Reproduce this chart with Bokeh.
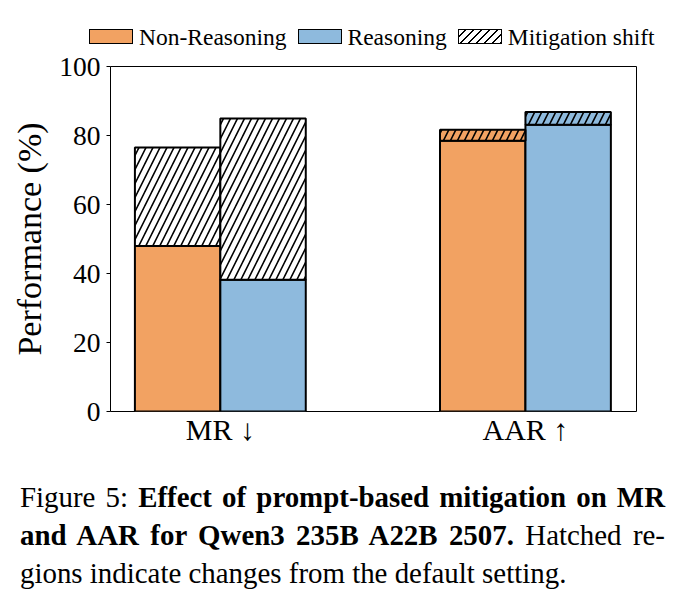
from bokeh.plotting import figure
from bokeh.models import ColumnDataSource, FixedTicker, Div
from bokeh.layouts import column
from bokeh.embed import file_html
from bokeh.resources import INLINE

categories = ["MR ↓", "AAR ↑"]
series_names = ["Non-Reasoning", "Reasoning"]
series_colors = ["#F2A262", "#8EBADD"]
non_reasoning_default = [76.5, 78.5]
non_reasoning_mitigated = [48.0, 81.7]
reasoning_default = [84.9, 83.1]
reasoning_mitigated = [38.2, 86.8]
y_ticks = [0, 20, 40, 60, 80, 100]
shift_label = "Mitigation shift"

FONT = "Liberation Serif"
bar_w = 0.28
offsets = [-0.14, 0.14]
defaults = [non_reasoning_default, reasoning_default]
mitigated = [non_reasoning_mitigated, reasoning_mitigated]
HATCH = dict(hatch_pattern="/", hatch_color="black", hatch_scale=14, hatch_weight=1.6)

# ---- legend strip (HTML) ----
HATCH_CSS = "repeating-linear-gradient(-45deg, #000 0px, #000 1.4px, #fff 1.4px, #fff 5.6px)"
swatches = [("background:" + series_colors[0], series_names[0]),
            ("background:" + series_colors[1], series_names[1]),
            ("background:" + HATCH_CSS, shift_label)]
items_html = ""
for k, (bg, lab) in enumerate(swatches):
    ml = "89px" if k == 0 else "11px"
    items_html += (
        f'<span style="display:inline-block; width:44px; height:15px; border:1.5px solid #000; '
        f'{bg}; margin-left:{ml}; margin-right:6px; vertical-align:middle;"></span>'
        f'<span style="vertical-align:middle;">{lab}</span>'
    )
legend_html = (
    f'<div style="font-family:\'Liberation Serif\'; font-size:23.5px; color:#000; '
    f'white-space:nowrap; padding-top:21px; line-height:26px;">{items_html}</div>'
)
leg = Div(text=legend_html, width=691, height=52, margin=(0, 0, 0, 0))

# ---- main chart ----
p = figure(width=691, height=413, x_range=(-0.36, 1.364), y_range=(0, 100),
           output_backend="svg", toolbar_location=None,
           min_border_left=110, min_border_right=55, min_border_top=14, min_border_bottom=54)

hatch_white = dict(x=[], bottom=[], top=[])
hatch_col = dict(x=[], bottom=[], top=[], color=[])
for s in range(2):
    xs, tops = [], []
    for i in range(len(categories)):
        d, m = defaults[s][i], mitigated[s][i]
        lo, hi = min(d, m), max(d, m)
        x = i + offsets[s]
        xs.append(x)
        tops.append(lo)
        if m > d:
            hatch_col["x"].append(x); hatch_col["bottom"].append(lo)
            hatch_col["top"].append(hi); hatch_col["color"].append(series_colors[s])
        else:
            hatch_white["x"].append(x); hatch_white["bottom"].append(lo)
            hatch_white["top"].append(hi)
    p.vbar(x=xs, top=tops, bottom=0, width=bar_w, fill_color=series_colors[s],
           line_color="black", line_width=2)

p.vbar(x="x", bottom="bottom", top="top", width=bar_w, source=ColumnDataSource(hatch_white),
       fill_color="white", line_color="black", line_width=2, **HATCH)
p.vbar(x="x", bottom="bottom", top="top", width=bar_w, source=ColumnDataSource(hatch_col),
       fill_color="color", line_color="black", line_width=2, **HATCH)

p.xgrid.visible = False
p.ygrid.visible = False
p.outline_line_color = "black"
p.outline_line_width = 1
p.outline_line_alpha = 1

p.xaxis.ticker = FixedTicker(ticks=list(range(len(categories))))
p.xaxis.major_label_overrides = {i: c for i, c in enumerate(categories)}
p.xaxis.major_tick_line_color = None
p.xaxis.minor_tick_line_color = None
p.xaxis.axis_line_color = None
p.xaxis.major_label_standoff = -5

p.yaxis.ticker = FixedTicker(ticks=y_ticks)
p.yaxis.minor_tick_line_color = None
p.yaxis.major_tick_in = 0
p.yaxis.major_tick_out = 4
p.yaxis.axis_line_color = None
p.yaxis.major_label_standoff = 6
p.yaxis.axis_label = "Performance (%)"
p.yaxis.axis_label_standoff = 8
p.yaxis.axis_label_text_font_style = "normal"

for ax in [p.xaxis[0], p.yaxis[0]]:
    ax.major_label_text_font = FONT
    ax.major_label_text_color = "black"
    ax.axis_label_text_font = FONT
    ax.axis_label_text_font_size = "34px"
    ax.axis_label_text_color = "black"
p.xaxis.major_label_text_font_size = "30px"
p.yaxis.major_label_text_font_size = "27.5px"

caption_html = (
    '<div style="font-family:\'Liberation Serif\'; font-size:28.9px; line-height:38px; '
    'color:black; width:645px; margin-left:20px; padding-top:13px; white-space:nowrap;">'
    '<div style="text-align:justify; text-align-last:justify;">Figure 5: '
    '<b>Effect of prompt-based mitigation on MR</b></div>'
    '<div style="text-align:justify; text-align-last:justify;">'
    '<b>and AAR for Qwen3 235B A22B 2507.</b> Hatched re-</div>'
    '<div>gions indicate changes from the default setting.</div>'
    '</div>'
)
cap = Div(text=caption_html, width=691, height=136, margin=(0, 0, 0, 0))

layout = column(leg, p, cap, spacing=0)
open("out.html", "w").write(file_html(layout, INLINE))
